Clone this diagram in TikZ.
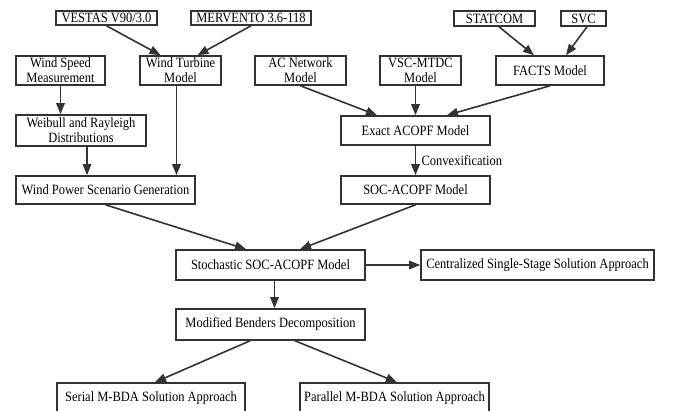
\documentclass[tikz,border=0pt]{standalone}
\usepackage{fontspec}
\setmainfont[FakeStretch=0.88]{Liberation Serif}
\usetikzlibrary{arrows.meta}

\tikzset{
  blk/.style={draw=black!80, line width=1.6pt, inner sep=0pt, align=center,
    font=\fontsize{14.2}{15}\selectfont},
  flow/.style={draw=black!80, line width=1.6pt, -{Triangle[length=11pt,width=8.5pt]}}
}

\begin{document}
\begin{tikzpicture}[x=1pt,y=-1pt]
\useasboundingbox (0,0) rectangle (676,410);

% top row
\node[blk, minimum width=101pt, minimum height=14pt] (vestas) at (106.5,18) {VESTAS V90/3.0};
\node[blk, minimum width=120pt, minimum height=14pt] (mervento) at (251,18) {MERVENTO 3.6-118};
\node[blk, minimum width=81pt, minimum height=15pt] (statcom) at (494.5,18.5) {STATCOM};
\node[blk, minimum width=45pt, minimum height=15pt] (svc) at (583.5,18.5) {SVC};

% models
\node[blk, minimum width=89pt, minimum height=29pt] (speed) at (60.5,70.5) {Wind Speed\\Measurement};
\node[blk, minimum width=81pt, minimum height=29pt] (turbine) at (180.5,70.5) {Wind Turbine\\Model};
\node[blk, minimum width=91pt, minimum height=29pt] (acnet) at (300.5,70.5) {AC Network\\Model};
\node[blk, minimum width=81pt, minimum height=29pt] (vsc) at (420.5,70.5) {VSC-MTDC\\Model};
\node[blk, minimum width=108pt, minimum height=29pt] (facts) at (550,70.5) {FACTS Model};

\node[blk, minimum width=130pt, minimum height=31pt] (weibull) at (81,130.5) {Weibull and Rayleigh\\Distributions};
\node[blk, minimum width=149pt, minimum height=29pt] (exact) at (415.5,130.5) {Exact ACOPF Model};

\node[blk, minimum width=179pt, minimum height=28pt] (power) at (105.5,190) {Wind Power Scenario Generation};
\node[blk, minimum width=149pt, minimum height=28pt] (soc) at (415.5,190) {SOC-ACOPF Model};

% solution
\node[blk, minimum width=189pt, minimum height=30pt] (stoch) at (270.5,265) {Stochastic SOC-ACOPF Model};
\node[blk, minimum width=233pt, minimum height=30pt] (central) at (537.5,265) {Centralized Single-Stage Solution Approach};
\node[blk, minimum width=189pt, minimum height=31pt] (benders) at (270.5,324.5) {Modified Benders Decomposition};
\node[blk, minimum width=188pt, minimum height=30pt] (serial) at (151,398) {Serial M-BDA Solution Approach};
\node[blk, minimum width=189pt, minimum height=30pt] (parallel) at (394.5,398) {Parallel M-BDA Solution Approach};

% arrows
\draw[flow] (vestas.south) -- ([xshift=-20pt]turbine.north);
\draw[flow] (mervento.south) -- ([xshift=17pt]turbine.north);
\draw[flow] ([xshift=4.5pt]statcom.south) -- ([xshift=-16pt]facts.north);
\draw[flow] ([xshift=3.5pt]svc.south) -- ([xshift=16pt]facts.north);

\draw[flow] (speed.south) -- (speed.south |- weibull.north);
\draw[flow] ([xshift=6pt]weibull.south) -- ([xshift=6pt]weibull.south |- power.north);
\draw[flow] ([xshift=-4pt]turbine.south) -- ([xshift=-4pt]turbine.south |- power.north);

\draw[flow] (acnet.south) -- ([xshift=-38.5pt]exact.north);
\draw[flow] (exact.north |- vsc.south) -- (exact.north);
\draw[flow] (facts.south) -- ([xshift=31.5pt]exact.north);
\draw[flow] (exact.south) -- node[right, font=\fontsize{14.2}{15}\selectfont, xshift=2pt] {Convexification} (soc.north);

\draw[flow] (power.south) -- ([xshift=-24.5pt]stoch.north);
\draw[flow] (soc.south) -- ([xshift=29.5pt]stoch.north);
\draw[flow] (stoch.east) -- (central.west);
\draw[flow] ([xshift=4pt]stoch.south) -- ([xshift=4pt]benders.north);
\draw[flow] ([xshift=-20.5pt]benders.south) -- ([xshift=4pt]serial.north);
\draw[flow] ([xshift=24.5pt]benders.south) -- ([xshift=2.5pt]parallel.north);

\end{tikzpicture}
\end{document}
